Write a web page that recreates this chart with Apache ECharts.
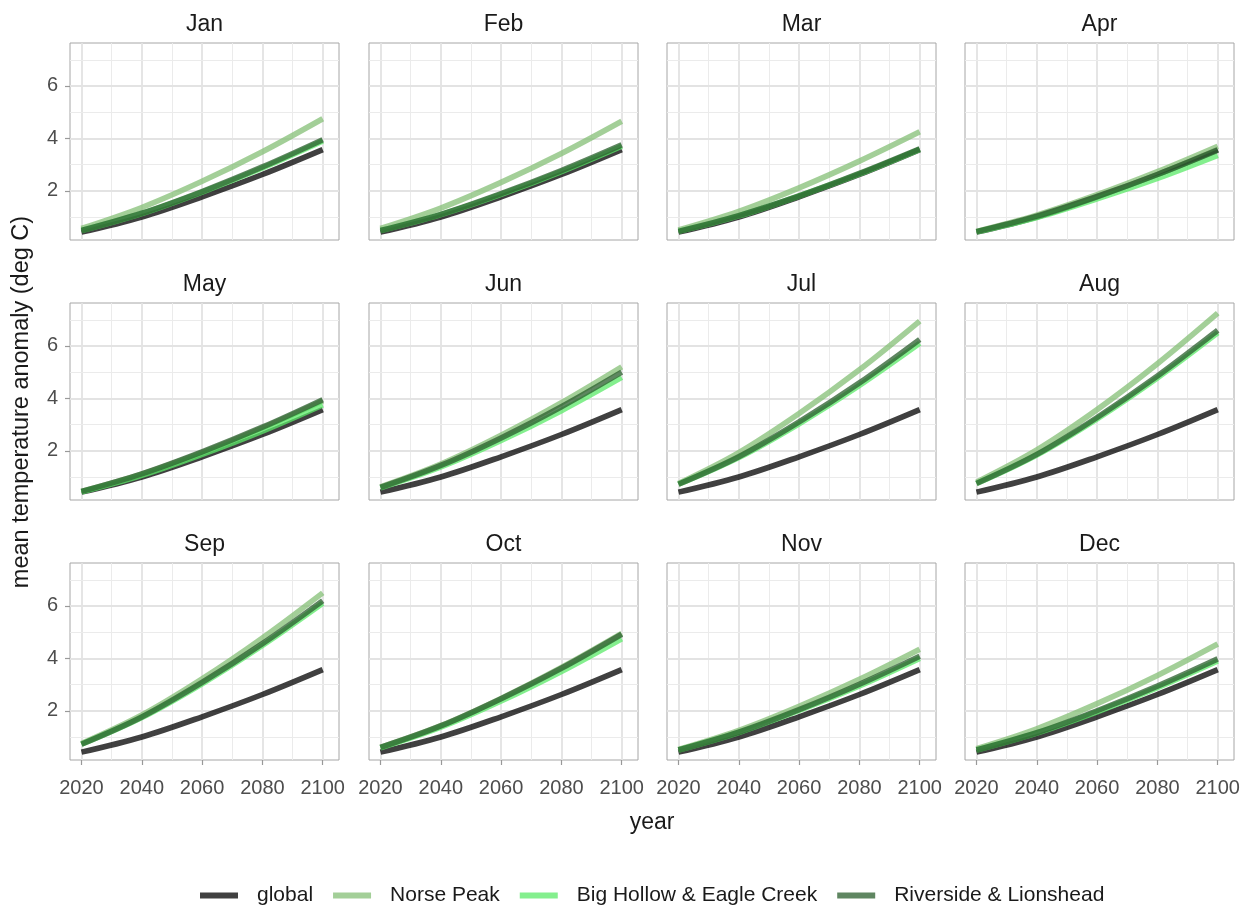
<!DOCTYPE html>
<html><head><meta charset="utf-8">
<script src="https://cdn.jsdelivr.net/npm/echarts@6/dist/echarts.min.js"></script>
<style>html,body{margin:0;padding:0;background:#fff}#c{width:1255px;height:905px}</style>
</head><body><div id="c"></div>
<script>
// ---------- data ----------
const months = ['Jan','Feb','Mar','Apr','May','Jun','Jul','Aug','Sep','Oct','Nov','Dec'];
const years = [2020, 2040, 2060, 2080, 2100];
const seriesNames = ['global', 'Norse Peak', 'Big Hollow & Eagle Creek', 'Riverside & Lionshead'];
const xTicks = [2020, 2040, 2060, 2080, 2100];
const yTicks = [2, 4, 6];
const xMinor = [2030, 2050, 2070, 2090];
const yMinor = [1, 3, 5, 7];

const globalVals = [0.42, 1.00, 1.77, 2.62, 3.57];
const norsePeak = [
 [0.56,1.36,2.36,3.49,4.75],
 [0.56,1.34,2.32,3.42,4.65],
 [0.50,1.21,2.11,3.13,4.25],
 [0.45,1.07,1.85,2.73,3.70],
 [0.45,1.11,1.93,2.87,3.90],
 [0.62,1.49,2.59,3.83,5.20],
 [0.75,1.93,3.42,5.09,6.95],
 [0.80,2.03,3.57,5.32,7.25],
 [0.75,1.84,3.22,4.78,6.50],
 [0.60,1.43,2.47,3.65,4.95],
 [0.52,1.25,2.17,3.20,4.35],
 [0.55,1.31,2.27,3.35,4.55]
];
const bigHollow = [
 [0.48,1.13,1.95,2.87,3.90],
 [0.48,1.09,1.86,2.73,3.70],
 [0.45,1.04,1.80,2.64,3.58],
 [0.43,0.98,1.69,2.47,3.35],
 [0.43,1.06,1.86,2.75,3.75],
 [0.58,1.38,2.39,3.53,4.80],
 [0.72,1.74,3.03,4.49,6.10],
 [0.75,1.84,3.22,4.78,6.50],
 [0.72,1.74,3.03,4.49,6.10],
 [0.58,1.37,2.37,3.50,4.75],
 [0.50,1.17,2.01,2.95,4.00],
 [0.50,1.15,1.96,2.88,3.90]
];
const riverside = [
 [0.48,1.14,1.97,2.91,3.95],
 [0.48,1.10,1.89,2.77,3.75],
 [0.45,1.05,1.80,2.66,3.60],
 [0.44,1.03,1.78,2.62,3.55],
 [0.45,1.12,1.96,2.90,3.95],
 [0.60,1.44,2.49,3.68,5.00],
 [0.72,1.77,3.10,4.59,6.25],
 [0.75,1.86,3.27,4.85,6.60],
 [0.72,1.76,3.08,4.56,6.20],
 [0.60,1.42,2.46,3.62,4.92],
 [0.50,1.18,2.04,3.01,4.08],
 [0.50,1.16,2.00,2.94,3.98]
];

// ---------- style / layout ----------
const FONT = "'Liberation Sans', Arial, sans-serif";
const lineColors = ['#000000', '#84bf75', '#5be968', '#2a5e2c'];
const legendColors = ['#404040', '#a3cf98', '#84ef8e', '#5f8661'];
const colLeft = [70, 369, 667, 965];
const rowTop = [43, 303, 563];
const PW = 269, PH = 197;
const X_MIN = 2016.2, X_MAX = 2105.4, Y_MIN = 0.12, Y_MAX = 7.64;

const grids = [], xAxes = [], yAxes = [], series = [], titles = [];
months.forEach((m, i) => {
  const r = Math.floor(i / 4), c = i % 4;
  grids.push({left: colLeft[c], top: rowTop[r], width: PW, height: PH, show: true,
    borderColor: '#a6a6a6', borderWidth: 1, backgroundColor: 'rgba(0,0,0,0)', containLabel: false});
  xAxes.push({gridIndex: i, type: 'value', min: X_MIN, max: X_MAX,
    splitLine: {show: false}, axisLine: {show: false},
    axisTick: {show: r === 2, customValues: xTicks, length: 5, lineStyle: {color: '#999999', width: 1.2}},
    axisLabel: {show: r === 2, customValues: xTicks, margin: 18, fontSize: 20, color: '#4d4d4d', fontFamily: FONT,
      formatter: v => String(Math.round(v))}});
  yAxes.push({gridIndex: i, type: 'value', min: Y_MIN, max: Y_MAX,
    splitLine: {show: false}, axisLine: {show: false},
    axisTick: {show: c === 0, customValues: yTicks, length: 5, lineStyle: {color: '#999999', width: 1.2}},
    axisLabel: {show: c === 0, customValues: yTicks, margin: 12, fontSize: 20, color: '#4d4d4d', fontFamily: FONT,
      formatter: v => String(Math.round(v))}});
  titles.push({text: m, left: colLeft[c] + PW / 2, top: rowTop[r] - 30, textAlign: 'center', padding: 0,
    textStyle: {fontSize: 23, fontWeight: 'normal', color: '#1a1a1a', fontFamily: FONT}});

  const gl = [];
  xTicks.forEach(v => gl.push({xAxis: v, lineStyle: {color: '#e3e3e3', width: 1.8, type: 'solid'}}));
  xMinor.forEach(v => gl.push({xAxis: v, lineStyle: {color: '#ebebeb', width: 1, type: 'solid'}}));
  yTicks.forEach(v => gl.push({yAxis: v, lineStyle: {color: '#e3e3e3', width: 1.8, type: 'solid'}}));
  yMinor.forEach(v => gl.push({yAxis: v, lineStyle: {color: '#ebebeb', width: 1, type: 'solid'}}));
  series.push({type: 'line', xAxisIndex: i, yAxisIndex: i, data: [], z: 1, silent: true,
    markLine: {silent: true, symbol: ['none', 'none'], label: {show: false}, z: 1, animation: false, data: gl}});

  const vals = [globalVals, norsePeak[i], bigHollow[i], riverside[i]];
  vals.forEach((arr, k) => {
    series.push({type: 'line', name: seriesNames[k], xAxisIndex: i, yAxisIndex: i, z: 10,
      data: years.map((y, j) => [y, arr[j]]), showSymbol: false, symbol: 'none', smooth: 0.35,
      silent: true, lineStyle: {width: 5.6, color: lineColors[k], opacity: 0.75}, itemStyle: {color: lineColors[k]}});
  });
});

const chart = echarts.init(document.getElementById('c'), null, {renderer: 'canvas'});
chart.setOption({
  animation: false,
  backgroundColor: '#ffffff',
  title: titles,
  grid: grids, xAxis: xAxes, yAxis: yAxes, series: series,
  legend: {left: 195, top: 880, icon: 'rect', itemWidth: 38, itemHeight: 6, itemGap: 20,
    selectedMode: false,
    textStyle: {fontSize: 21, color: '#1a1a1a', fontFamily: FONT, padding: [0, 0, 0, 14]},
    data: seriesNames.map((n, k) => ({name: n, itemStyle: {color: legendColors[k]}}))},
  graphic: [
    {type: 'text', x: 652, y: 823,
      style: {text: 'year', font: '23px ' + FONT, fill: '#1a1a1a', align: 'center', verticalAlign: 'middle'}},
    {type: 'text', x: 22, y: 402, rotation: Math.PI / 2,
      style: {text: 'mean temperature anomaly (deg C)', font: '23.5px ' + FONT, fill: '#1a1a1a', align: 'center', verticalAlign: 'middle'}}
  ]
});
</script></body></html>
